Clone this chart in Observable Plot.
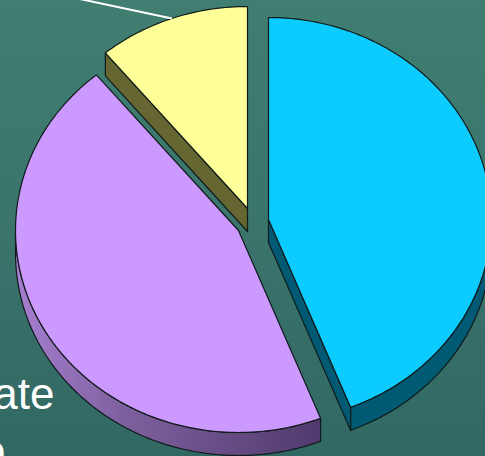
<!DOCTYPE html>
<html>
<head>
<meta charset="utf-8">
<script src="https://cdn.jsdelivr.net/npm/d3@7"></script>
<script src="https://cdn.jsdelivr.net/npm/@observablehq/plot@0.6"></script>
<style>
  html, body { margin: 0; padding: 0; background: #38746b; }
  svg { display: block; }
</style>
</head>
<body>
<div id="chart"></div>
<script>
// Slice shares, clockwise from twelve o'clock
const sliceNames = ["blue", "purple", "yellow"];
const sliceValues = [44, 45, 11];
const faceColors = ["#0ccbff", "#cc99ff", "#ffff99"];
const wallColors = ["#005a73", "url(#purpleWall)", "#666633"];
const clippedWords = ["ate", "o"];

// Tilted disc: one unit of the plot's domain equals one radius of the ellipse
const width = 485, height = 456;
const cx = 250, cy = 218, rx = 223, ry = 202;
const depth = 23 / ry;

// How far each slice is pulled out of the disc, in radii
const pull = {
  blue: [18 / rx, -1 / ry],
  purple: [-12 / rx, -12 / ry],
  yellow: [-3 / rx, 10 / ry]
};

const arcs = d3.pie().sort(null)(sliceValues);
const rad = (deg) => (deg * Math.PI) / 180;

function rim(i, angle, drop = 0) {
  const [ox, oy] = pull[sliceNames[i]];
  return { x: ox + Math.sin(angle), y: oy + Math.cos(angle) - drop };
}
function apex(i, drop = 0) {
  const [ox, oy] = pull[sliceNames[i]];
  return { x: ox, y: oy - drop };
}
function arcPoints(i, a0, a1, drop = 0) {
  const n = Math.max(2, Math.ceil(Math.abs(a1 - a0) / 0.02));
  return d3.range(n + 1).map((k) => rim(i, a0 + ((a1 - a0) * k) / n, drop));
}

function face(i) {
  return [apex(i), ...arcPoints(i, arcs[i].startAngle, arcs[i].endAngle)];
}
// Outer wall: the part of the rim that faces the viewer
function rimWall(i, a0, a1) {
  return [...arcPoints(i, a0, a1), ...arcPoints(i, a1, a0, depth)];
}
// Cut wall: the straight edge from the centre to one end of the arc
function cutWall(i, angle) {
  return [apex(i), rim(i, angle), rim(i, angle, depth), apex(i, depth)];
}

const polygon = (points, fill) =>
  Plot.line(points, {
    x: "x",
    y: "y",
    curve: "linear-closed",
    fill,
    stroke: "#101a1a",
    strokeWidth: 1.2,
    strokeLinejoin: "round"
  });

const [blue, purple, yellow] = [0, 1, 2];

// Leader from the middle of the small slice's rim towards its label
const midAngle = (arcs[yellow].startAngle + arcs[yellow].endAngle) / 2;
const leaderStart = rim(yellow, midAngle);
const leader = [{
  x1: leaderStart.x,
  y1: leaderStart.y,
  x2: leaderStart.x - 0.42,
  y2: leaderStart.y + 0.098
}];

const gradient = () => {
  const ns = "http://www.w3.org/2000/svg";
  const defs = document.createElementNS(ns, "defs");
  const g = document.createElementNS(ns, "linearGradient");
  g.setAttribute("id", "purpleWall");
  g.setAttribute("gradientUnits", "objectBoundingBox");
  g.setAttribute("x1", 0);
  g.setAttribute("x2", 1);
  g.setAttribute("y1", 0);
  g.setAttribute("y2", 0);
  [[0, "#a67fd0"], [0.35, "#7f609f"], [1, "#503a6c"]].forEach(([o, c]) => {
    const s = document.createElementNS(ns, "stop");
    s.setAttribute("offset", o);
    s.setAttribute("stop-color", c);
    g.appendChild(s);
  });
  defs.appendChild(g);
  return defs;
};

// Words run off the left and bottom edges of the slide
const word = (text, dx, dy) =>
  Plot.text([text], {
    text: (d) => d,
    frameAnchor: "top-left",
    textAnchor: "end",
    lineAnchor: "bottom",
    dx,
    dy,
    fill: "white",
    fontFamily: "Liberation Sans",
    fontSize: 44
  });

const chart = Plot.plot({
  width,
  height,
  margin: 0,
  style: {
    background: "linear-gradient(180deg, #3f7e71 0%, #3a746b 50%, #326863 100%)",
    overflow: "hidden"
  },
  x: { domain: [-1, 1], range: [cx - rx, cx + rx], axis: null },
  y: { domain: [-1, 1], range: [cy + ry, cy - ry], axis: null },
  marks: [
    gradient,
    polygon(cutWall(yellow, arcs[yellow].startAngle), wallColors[yellow]),
    polygon(rimWall(purple, arcs[purple].startAngle, rad(270)), wallColors[purple]),
    polygon(rimWall(blue, rad(90), arcs[blue].endAngle), wallColors[blue]),
    polygon(cutWall(blue, arcs[blue].endAngle), wallColors[blue]),
    polygon(face(yellow), faceColors[yellow]),
    polygon(face(purple), faceColors[purple]),
    polygon(face(blue), faceColors[blue]),
    Plot.link(leader, {
      x1: "x1", y1: "y1", x2: "x2", y2: "y2",
      stroke: "white", strokeWidth: 2
    }),
    word(clippedWords[0], 54, 408),
    word(clippedWords[1], 5, 465)
  ]
});
document.getElementById("chart").appendChild(chart);
</script>
</body>
</html>
